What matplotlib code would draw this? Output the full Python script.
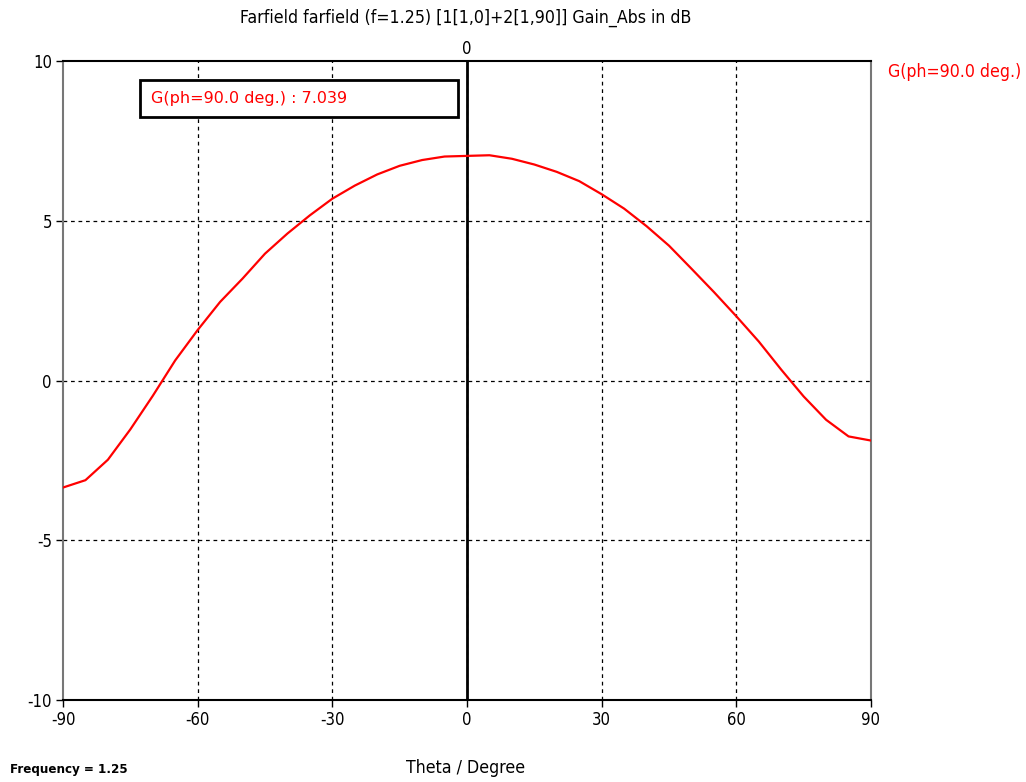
import matplotlib
matplotlib.use("Agg")
import matplotlib.pyplot as plt
from matplotlib.patches import Rectangle

theta = list(range(-90, 91, 5))
gain_db = [-3.35, -3.12, -2.48, -1.53, -0.48, 0.63, 1.58, 2.46, 3.19, 3.97,
           4.60, 5.17, 5.69, 6.10, 6.45, 6.72, 6.90, 7.01, 7.03, 7.05,
           6.94, 6.76, 6.53, 6.24, 5.83, 5.38, 4.83, 4.22, 3.50, 2.77,
           2.01, 1.22, 0.34, -0.50, -1.23, -1.75, -1.88]
xticks = [-90, -60, -30, 0, 30, 60, 90]
yticks = [-10, -5, 0, 5, 10]
title = "Farfield farfield (f=1.25) [1[1,0]+2[1,90]] Gain_Abs in dB"
series_label = "G(ph=90.0 deg.)"
marker_text = "G(ph=90.0 deg.) : 7.039"

plt.rcParams['font.family'] = ['DejaVu Sans']
plt.rcParams['axes.unicode_minus'] = False
FS = dict(fontstretch='condensed')

fig = plt.figure(figsize=(10.26, 7.82), dpi=100)
ax = fig.add_axes([63/1026, 1-700/782, (871-63)/1026, (700-61)/782])
ax.set_xlim(-90, 90)
ax.set_ylim(-10, 10)

# grid
for xv in xticks[1:-1]:
    ax.axvline(xv, color='black', lw=0.9, ls=(0, (3, 3)), zorder=1)
for yv in yticks[1:-1]:
    ax.axhline(yv, color='black', lw=0.9, ls=(0, (3, 3)), zorder=1)
ax.axvline(0, color='black', lw=2.0, zorder=2)

ax.plot(theta, gain_db, color='#ff0000', lw=1.6, zorder=3)

ax.set_xticks(xticks)
ax.set_yticks(yticks)
ax.tick_params(axis='both', length=5, width=1, labelsize=12, pad=3, direction='out')
for lab in ax.get_xticklabels() + ax.get_yticklabels():
    lab.set_fontstretch('condensed')
ax.spines['left'].set_color('#777777')
ax.spines['right'].set_color('#777777')
for s in ax.spines.values():
    s.set_linewidth(1.5)

# top "0" label
ax.text(0, 10.36, "0", ha='center', va='center', fontsize=12, **FS)

fig.text(466/1026, 1-18/782, title, ha='center', va='center', fontsize=12.7, **FS)
fig.text(888/1026, 1-72/782, series_label, ha='left', va='center', fontsize=12.7,
         color='#ff0000', **FS)

# marker box (fixed size like the original)
x0 = -90 + (140 - 63) / 808 * 180
x1 = -90 + (458 - 63) / 808 * 180
y0 = 10 - (117 - 61) / 639 * 20
y1 = 10 - (80 - 61) / 639 * 20
ax.add_patch(Rectangle((x0, y0), x1 - x0, y1 - y0, fc='white', ec='black',
                       lw=2, zorder=5))
ax.text(-90 + (151 - 63) / 808 * 180, (y0 + y1) / 2, marker_text, ha='left',
        va='center', fontsize=11.5, color='#ff0000', zorder=6)

fig.text(466/1026, 1-768/782, "Theta / Degree", ha='center', va='center',
         fontsize=12.7, **FS)
fig.text(10/1026, 1-770/782, "Frequency = 1.25", ha='left', va='center',
         fontsize=9.5, fontweight='bold', **FS)

fig.savefig("out.png", dpi=100)
